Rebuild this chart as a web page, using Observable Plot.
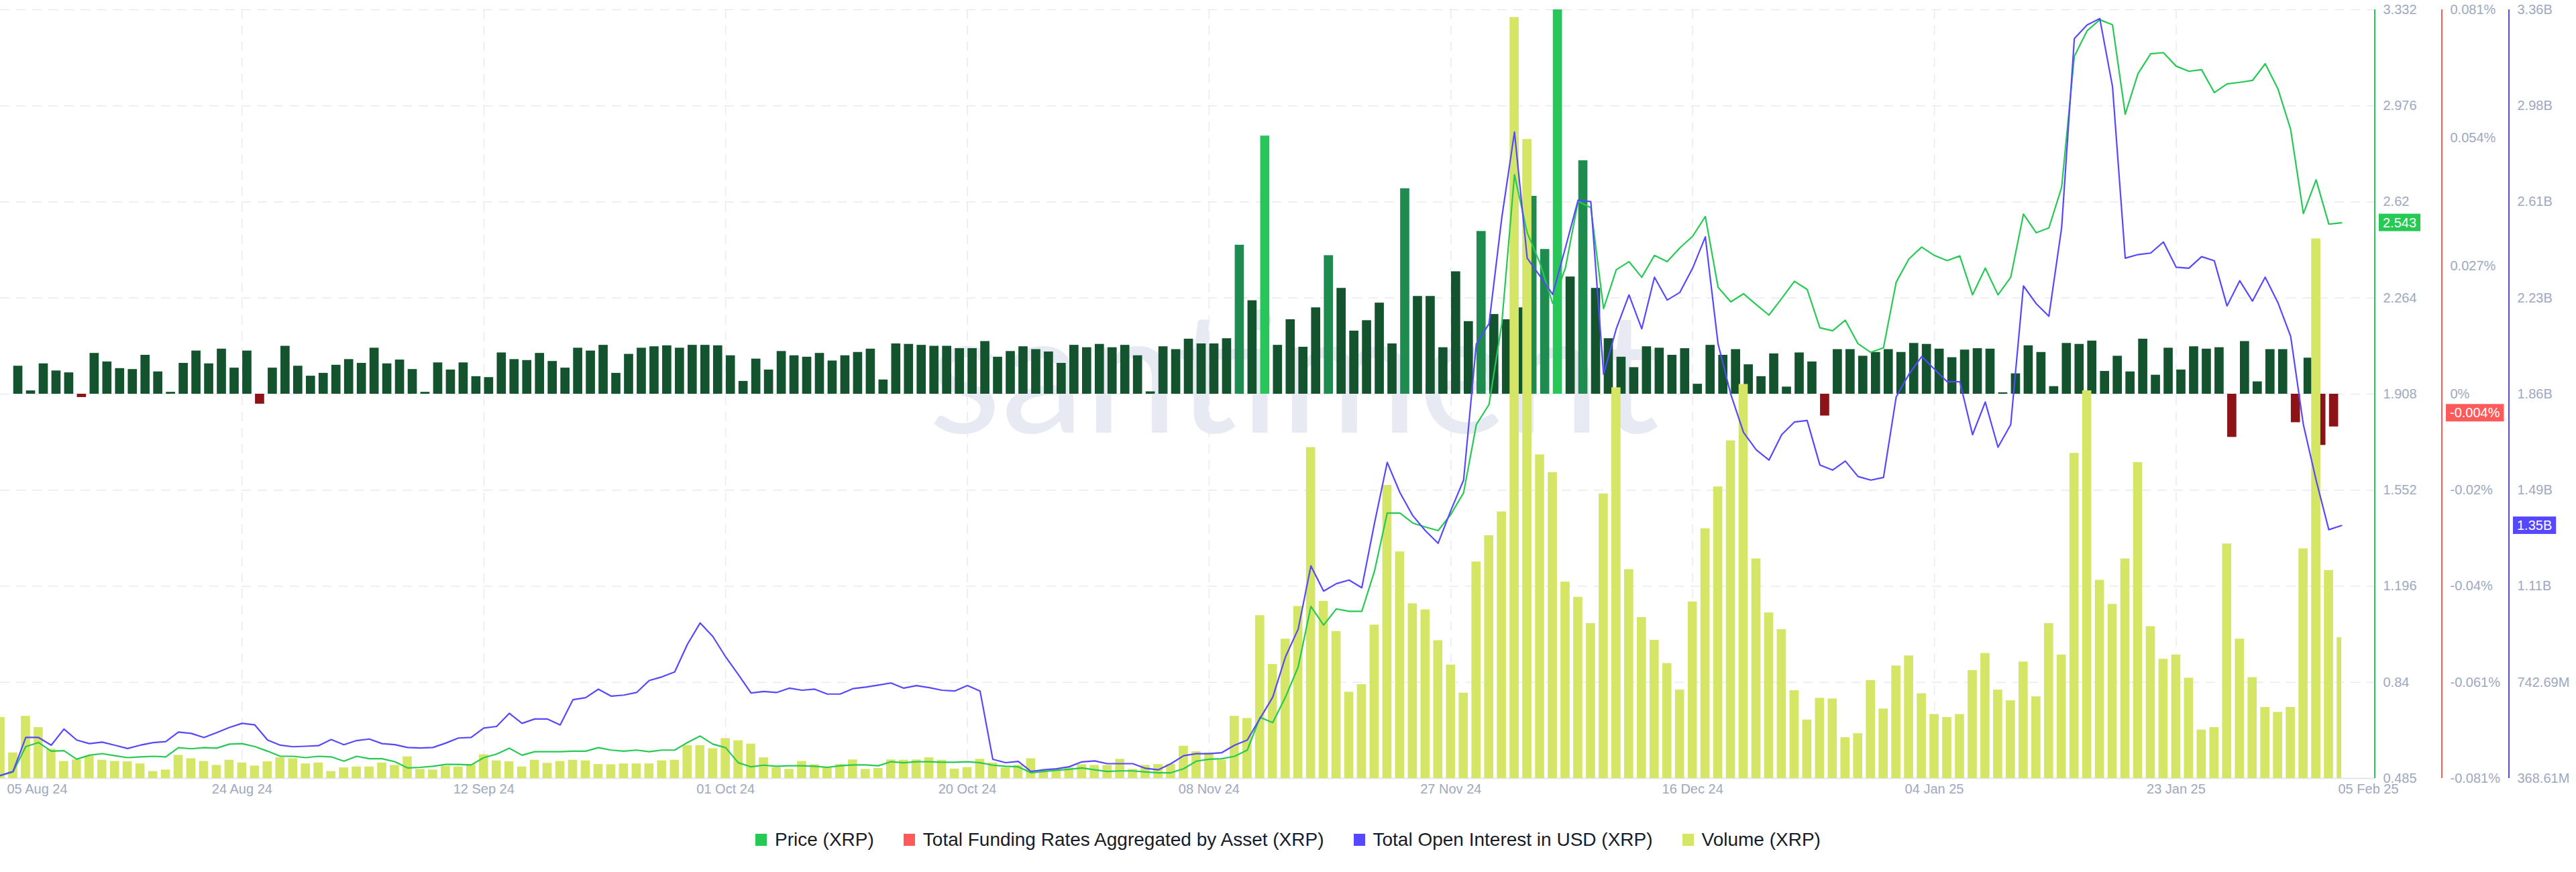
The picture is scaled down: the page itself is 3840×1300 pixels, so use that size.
<!DOCTYPE html>
<html>
<head>
<meta charset="utf-8">
<script src="https://cdn.jsdelivr.net/npm/d3@7"></script>
<script src="https://cdn.jsdelivr.net/npm/@observablehq/plot@0.6"></script>
<style>
  html, body { margin: 0; padding: 0; background: #ffffff; }
  body { width: 3840px; height: 1300px; position: relative; overflow: hidden; font-family: "Liberation Sans", Arial, sans-serif; }
  #wrap { position: absolute; left: 0; top: 0; width: 3840px; height: 1200px; }
  #wrap svg { position: absolute; left: 0; top: 0; max-width: none; }
  #legend { position: absolute; left: 0; top: 1236px; width: 3840px; display: flex; justify-content: center; gap: 44px;
            font-size: 28px; line-height: 32px; color: #181b28; }
  #legend .item { display: flex; align-items: center; gap: 12px; }
  #legend .sw { width: 17px; height: 18px; display: inline-block; }
</style>
</head>
<body>
<div id="wrap"></div>
<div id="legend"></div>
<script>
// ---------------- DATA ----------------
const startDate = "2024-08-05";
const endDate = "2025-02-05";

// Price (XRP), USD, daily
const price = [
  0.496, 0.509, 0.603, 0.618, 0.586, 0.588, 0.556, 0.571, 0.577, 0.569,
  0.562, 0.565, 0.567, 0.565, 0.599, 0.595, 0.599, 0.597, 0.612, 0.614,
  0.603, 0.586, 0.567, 0.567, 0.562, 0.567, 0.565, 0.549, 0.567, 0.558,
  0.558, 0.547, 0.524, 0.526, 0.530, 0.537, 0.537, 0.535, 0.562, 0.575,
  0.597, 0.571, 0.584, 0.584, 0.584, 0.586, 0.586, 0.599, 0.590, 0.586,
  0.590, 0.584, 0.590, 0.590, 0.618, 0.642, 0.612, 0.599, 0.543, 0.528,
  0.534, 0.530, 0.532, 0.532, 0.530, 0.526, 0.532, 0.535, 0.535, 0.532,
  0.547, 0.543, 0.547, 0.547, 0.545, 0.545, 0.547, 0.543, 0.534, 0.530,
  0.528, 0.506, 0.511, 0.515, 0.519, 0.524, 0.517, 0.511, 0.513, 0.513,
  0.509, 0.506, 0.506, 0.521, 0.549, 0.556, 0.558, 0.567, 0.590, 0.711,
  0.692, 0.786, 0.898, 1.122, 1.053, 1.113, 1.104, 1.104, 1.253, 1.468,
  1.468, 1.431, 1.416, 1.403, 1.463, 1.543, 1.795, 1.870, 2.169, 2.721,
  2.506, 2.394, 2.244, 2.375, 2.622, 2.599, 2.225, 2.369, 2.399, 2.341,
  2.422, 2.399, 2.450, 2.493, 2.566, 2.304, 2.250, 2.280, 2.240, 2.201,
  2.263, 2.326, 2.296, 2.154, 2.143, 2.182, 2.095, 2.063, 2.080, 2.323,
  2.409, 2.453, 2.422, 2.403, 2.420, 2.276, 2.375, 2.276, 2.341, 2.575,
  2.506, 2.524, 2.674, 3.160, 3.254, 3.295, 3.276, 2.945, 3.095, 3.169,
  3.173, 3.123, 3.104, 3.110, 3.025, 3.057, 3.063, 3.070, 3.132, 3.039,
  2.889, 2.577, 2.702, 2.538, 2.543
];

// Total Open Interest in USD (XRP), millions USD
const openInterestM = [
  380, 396, 528, 528, 498, 561, 518, 504, 510, 498,
  485, 498, 508, 512, 549, 544, 528, 547, 567, 583,
  577, 518, 498, 492, 494, 496, 520, 500, 516, 522,
  504, 500, 489, 487, 489, 506, 526, 528, 565, 571,
  622, 583, 600, 600, 577, 675, 683, 716, 689, 693,
  703, 750, 764, 783, 891, 974, 921, 842, 773, 701,
  707, 703, 720, 712, 716, 697, 697, 718, 724, 732,
  740, 720, 730, 722, 712, 709, 730, 709, 443, 430,
  435, 396, 402, 406, 414, 433, 437, 426, 426, 426,
  408, 402, 426, 457, 465, 465, 469, 498, 518, 602,
  685, 842, 950, 1196, 1098, 1127, 1141, 1111, 1363, 1599,
  1481, 1392, 1333, 1284, 1412, 1530, 2060, 2139, 2551, 2885,
  2394, 2325, 2253, 2434, 2620, 2614, 1942, 2119, 2251, 2119,
  2320, 2231, 2261, 2355, 2477, 2060, 1864, 1716, 1648, 1608,
  1707, 1756, 1762, 1589, 1569, 1604, 1544, 1530, 1540, 1854,
  1942, 2011, 1962, 1913, 1913, 1707, 1834, 1658, 1746, 2286,
  2217, 2168, 2512, 3249, 3302, 3327, 3062, 2394, 2408, 2414,
  2457, 2359, 2355, 2400, 2384, 2208, 2306, 2227, 2320, 2221,
  2090, 1746, 1530, 1337, 1353
];

// Volume (XRP), billions USD
const volumeB = [
  2.80, 1.64, 2.84, 2.47, 1.76, 1.36, 1.41, 1.53, 1.40, 1.36,
  1.35, 1.28, 1.03, 1.08, 1.56, 1.45, 1.36, 1.23, 1.40, 1.31,
  1.21, 1.35, 1.48, 1.45, 1.28, 1.31, 1.03, 1.15, 1.18, 1.18,
  1.31, 1.23, 1.51, 1.10, 1.08, 1.20, 1.18, 1.26, 1.58, 1.38,
  1.35, 1.18, 1.40, 1.30, 1.36, 1.40, 1.38, 1.26, 1.25, 1.28,
  1.28, 1.28, 1.38, 1.40, 1.88, 1.88, 1.78, 2.11, 2.04, 1.93,
  1.48, 1.16, 1.10, 1.36, 1.25, 1.18, 1.26, 1.41, 1.10, 1.13,
  1.41, 1.40, 1.41, 1.48, 1.40, 1.11, 1.16, 1.43, 1.31, 1.15,
  1.23, 1.45, 1.06, 1.10, 1.15, 1.25, 1.23, 1.23, 1.43, 1.10,
  1.23, 1.26, 1.26, 1.86, 1.68, 1.64, 1.40, 2.84, 2.77, 6.14,
  4.54, 5.37, 6.44, 11.65, 6.61, 5.62, 3.63, 3.88, 5.83, 10.41,
  8.23, 6.53, 6.33, 5.32, 4.52, 3.60, 7.90, 8.76, 9.54, 25.75,
  21.75, 11.41, 10.83, 7.24, 6.74, 5.88, 10.13, 13.61, 7.65, 6.08,
  5.33, 4.57, 3.70, 6.59, 8.99, 10.36, 11.87, 13.72, 8.00, 6.23,
  5.68, 3.68, 2.72, 3.43, 3.41, 2.14, 2.27, 4.01, 3.08, 4.49,
  4.82, 3.58, 2.90, 2.80, 2.90, 4.34, 4.90, 3.70, 3.35, 4.62,
  3.48, 5.88, 4.85, 11.46, 13.51, 7.30, 6.51, 8.00, 11.16, 5.78,
  4.71, 4.85, 4.09, 2.39, 2.47, 8.49, 5.37, 4.11, 3.13, 2.97,
  3.13, 8.33, 18.49, 7.62, 5.42
];

// Total Funding Rates Aggregated by Asset (XRP), percent
const fundingPct = [
  null, 0.0059, 0.0007, 0.0064, 0.0049, 0.0045, -0.0007, 0.0086, 0.0068, 0.0054,
  0.0052, 0.0082, 0.0047, 0.0004, 0.0065, 0.0091, 0.0064, 0.0095, 0.0055, 0.0091,
  -0.0021, 0.0055, 0.0101, 0.0059, 0.0038, 0.0044, 0.0061, 0.0073, 0.0065, 0.0097,
  0.0064, 0.0072, 0.0052, 0.0004, 0.0066, 0.0051, 0.0066, 0.0037, 0.0035, 0.0087,
  0.0073, 0.0071, 0.0086, 0.0069, 0.0055, 0.0097, 0.0091, 0.0103, 0.0044, 0.0084,
  0.0097, 0.0100, 0.0102, 0.0097, 0.0103, 0.0103, 0.0102, 0.0081, 0.0027, 0.0074,
  0.0051, 0.0090, 0.0081, 0.0078, 0.0086, 0.0070, 0.0081, 0.0088, 0.0095, 0.0030,
  0.0106, 0.0105, 0.0103, 0.0101, 0.0101, 0.0096, 0.0096, 0.0111, 0.0078, 0.0090,
  0.0100, 0.0094, 0.0089, 0.0065, 0.0103, 0.0098, 0.0105, 0.0098, 0.0103, 0.0081,
  0.0005, 0.0100, 0.0094, 0.0116, 0.0106, 0.0106, 0.0117, 0.0314, 0.0197, 0.0544,
  0.0103, 0.0157, 0.0099, 0.0182, 0.0292, 0.0223, 0.0133, 0.0155, 0.0192, 0.0106,
  0.0433, 0.0206, 0.0206, 0.0098, 0.0258, 0.0153, 0.0343, 0.0168, 0.0157, 0.0182,
  0.0417, 0.0305, 0.0810, 0.0247, 0.0492, 0.0223, 0.0117, 0.0078, 0.0056, 0.0100,
  0.0097, 0.0082, 0.0096, 0.0021, 0.0103, 0.0082, 0.0094, 0.0062, 0.0037, 0.0085,
  0.0015, 0.0087, 0.0068, -0.0046, 0.0094, 0.0094, 0.0080, 0.0088, 0.0094, 0.0088,
  0.0107, 0.0105, 0.0095, 0.0077, 0.0093, 0.0096, 0.0095, 0.0003, 0.0043, 0.0102,
  0.0088, 0.0016, 0.0107, 0.0105, 0.0112, 0.0048, 0.0080, 0.0047, 0.0116, 0.0040,
  0.0097, 0.0051, 0.0100, 0.0095, 0.0098, -0.0091, 0.0111, 0.0026, 0.0094, 0.0094,
  -0.0060, 0.0076, -0.0108, -0.0069
];
const fundingLatestPct = -0.004;

// Axis domains / ticks
const priceDomain = [0.485, 3.332];
const fundingDomain = [-0.081, 0.081];
const fundingTicks = [-0.081, -0.06075, -0.0405, -0.02025, 0, 0.027, 0.054, 0.081];
const fundingTickLabels = ["-0.081%", "-0.061%", "-0.04%", "-0.02%", "0%", "0.027%", "0.054%", "0.081%"];
const oiDomainM = [368.61, 3361.25];
const volumeDomainB = [0.8, 26];
const xTickLabelDates = ["2024-08-24", "2024-09-12", "2024-10-01", "2024-10-20", "2024-11-08",
                         "2024-11-27", "2024-12-16", "2025-01-04", "2025-01-23"];

const seriesNames = ["Price (XRP)", "Total Funding Rates Aggregated by Asset (XRP)",
                     "Total Open Interest in USD (XRP)", "Volume (XRP)"];

// ---------------- STYLE ----------------
const GREEN = "#26c953", RED = "#ff5a5a", BLUE = "#5548ff", VOL = "#d5e666";
const F_BRIGHT = "#27c659", F_MID = "#1f8c4f", F_DARK = "#13532d", F_NEG = "#8c1419";
const GRID = "#e8eaf2", AXIS_TEXT = "#9ea8c0";
const FONT = "'Liberation Sans', Arial, sans-serif";
const W = 3840, H = 1200, MT = 14, MB = 40;
const DAY = 864e5;

// ---------------- BUILD ----------------
const dates = d3.utcDay.range(new Date(startDate), d3.utcDay.offset(new Date(endDate), 1));
const priceData = dates.map((date, i) => ({date, v: price[i]}));
const oiData = dates.map((date, i) => ({date, v: openInterestM[i] * 1e6}));
const volData = dates.map((date, i) => ({date, v: volumeB[i]}));
const fundData = fundingPct.map((v, i) => ({date: dates[i], v})).filter(d => d.v != null);
const tickDates = xTickLabelDates.map(s => new Date(s));
const fmtDate = d3.utcFormat("%d %b %y");
const trunc = (v, p) => Math.floor(v * p + 1e-6) / p;
const fmtPrice = d => String(trunc(d, 1000));
const fmtOI = d => d >= 1e9 ? trunc(d / 1e9, 100) + "B" : trunc(d / 1e6, 100) + "M";
const fundLabel = new Map(fundingTicks.map((t, i) => [t, fundingTickLabels[i]]));
const fundColor = v => v < 0 ? F_NEG : v >= 0.054 ? F_BRIGHT : v >= 0.027 ? F_MID : F_DARK;
const shift = (d, f) => new Date(+d + f * DAY);

const xOpt = {type: "utc", domain: [dates[0], dates[dates.length - 1]], range: [0, 3490]};
function base(marginRight, yOpt, marks) {
  return {
    width: W, height: H, marginTop: MT, marginBottom: MB, marginLeft: 0, marginRight,
    x: {...xOpt, axis: null}, y: {...yOpt, axis: null},
    style: {background: "transparent", fontFamily: FONT, fontSize: "20px", color: AXIS_TEXT, overflow: "visible"},
    marks
  };
}
const wrap = document.getElementById("wrap");
function add(plot) { wrap.appendChild(plot); return plot; }
function axisLine(plot, x, color) {
  d3.select(plot).append("line").attr("x1", x).attr("x2", x).attr("y1", MT).attr("y2", H - MB)
    .attr("stroke", color).attr("stroke-width", 2);
}
function valueBox(plot, x, value, label, color) {
  const y = plot.scale("y").apply(value);
  const g = d3.select(plot).append("g").attr("text-anchor", "start");
  const t = g.append("text").attr("x", x + 6).attr("y", y).attr("dy", "0.36em").attr("text-anchor", "start")
    .attr("fill", "#fff").attr("font-size", 20).attr("font-family", FONT).text(label);
  const w = t.node().getComputedTextLength();
  g.insert("rect", "text").attr("x", x).attr("y", y - 13).attr("width", w + 12).attr("height", 26).attr("fill", color);
}

// Layer 0: grid, x axis, price axis labels
const priceTicks = d3.range(0, 9).map(k => priceDomain[0] + k * (priceDomain[1] - priceDomain[0]) / 8);
const L0 = add(Plot.plot(base(300, {domain: priceDomain}, [
  Plot.ruleY(priceTicks.slice(1), {stroke: GRID, strokeWidth: 1.5, strokeDasharray: "14,10"}),
  Plot.ruleX(tickDates, {stroke: GRID, strokeWidth: 1.5, strokeDasharray: "14,10"}),
  Plot.ruleY([priceDomain[0]], {stroke: "#e2e5ee", strokeWidth: 2}),
  Plot.axisX(tickDates, {tickSize: 0, tickPadding: 8, tickFormat: fmtDate, fill: AXIS_TEXT, fontSize: 20, label: null}),
  Plot.text([dates[0]], {x: d => d, text: d => fmtDate(d), frameAnchor: "bottom", lineAnchor: "top",
    textAnchor: "start", dx: 10, dy: 8, fill: AXIS_TEXT, fontSize: 20}),
  Plot.text([dates[dates.length - 1]], {x: d => d, text: d => fmtDate(d), frameAnchor: "bottom", lineAnchor: "top",
    textAnchor: "start", dx: -5, dy: 8, fill: AXIS_TEXT, fontSize: 20}),
  Plot.axisY(priceTicks, {anchor: "right", tickSize: 0, tickPadding: 12, tickFormat: fmtPrice,
    fill: AXIS_TEXT, fontSize: 20, label: null})
])));
// watermark
d3.select(L0).append("text").attr("x", 1384).attr("y", 645).attr("text-anchor", "start").attr("font-size", 250)
  .attr("font-family", "Lato, 'Open Sans', sans-serif").attr("fill", "#e8eaf3").text("santiment");

// Layer 1: funding bars + axis
const L1 = add(Plot.plot(base(200, {domain: fundingDomain}, [
  Plot.rect(fundData, {x1: d => shift(d.date, 0.04), x2: d => shift(d.date, 0.76), y1: () => 0, y2: "v",
    fill: d => fundColor(d.v)}),
  Plot.axisY(fundingTicks, {anchor: "right", tickSize: 0, tickPadding: 12, tickFormat: d => fundLabel.get(d),
    fill: AXIS_TEXT, fontSize: 20, label: null})
])));
axisLine(L1, W - 200, RED);
valueBox(L1, W - 200 + 6, fundingLatestPct, fundingLatestPct + "%", RED);

// Layer 2: volume bars (clipped at the last day)
add(Plot.plot(base(350, {domain: volumeDomainB}, [
  Plot.rect(volData, {x1: d => shift(d.date, -0.36), x2: d => shift(d.date, 0.36), y1: () => 0, y2: "v",
    fill: VOL, clip: true})
])));

// Layer 3: price line
const L3 = add(Plot.plot(base(300, {domain: priceDomain}, [
  Plot.line(priceData, {x: "date", y: "v", stroke: GREEN, strokeWidth: 2.2, strokeLinejoin: "round"})
])));
axisLine(L3, W - 300, GREEN);
valueBox(L3, W - 300 + 6, price[price.length - 1], fmtPrice(price[price.length - 1]), GREEN);

// Layer 4: open interest line + axis
const oiTicks = d3.range(0, 9).map(k => (oiDomainM[0] + k * (oiDomainM[1] - oiDomainM[0]) / 8) * 1e6);
const L4 = add(Plot.plot(base(100, {domain: oiDomainM.map(v => v * 1e6)}, [
  Plot.line(oiData, {x: "date", y: "v", stroke: BLUE, strokeWidth: 2.2, strokeLinejoin: "round"}),
  Plot.axisY(oiTicks, {anchor: "right", tickSize: 0, tickPadding: 12, tickFormat: fmtOI,
    fill: AXIS_TEXT, fontSize: 20, label: null})
])));
axisLine(L4, W - 100, BLUE);
const lastOI = openInterestM[openInterestM.length - 1] * 1e6;
valueBox(L4, W - 100 + 6, lastOI, fmtOI(lastOI), BLUE);

// Legend
const legendColors = [GREEN, RED, BLUE, VOL];
const legend = d3.select("#legend");
seriesNames.forEach((name, i) => {
  const item = legend.append("div").attr("class", "item");
  item.append("span").attr("class", "sw").style("background", legendColors[i]);
  item.append("span").text(name);
});
</script>
</body>
</html>
